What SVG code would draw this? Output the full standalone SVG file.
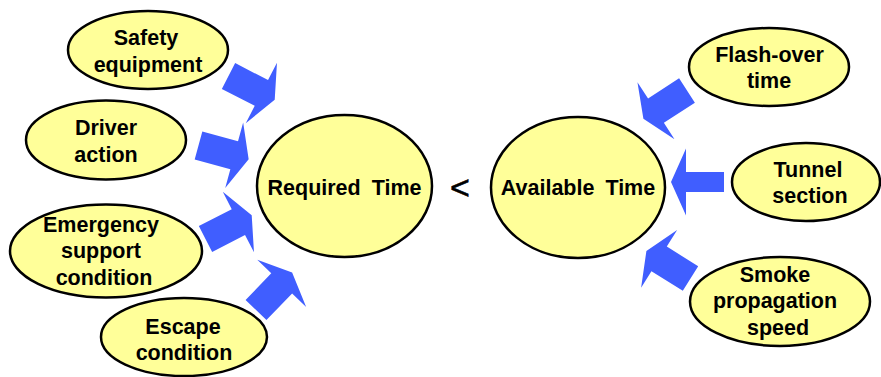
<svg xmlns="http://www.w3.org/2000/svg" xmlns:xlink="http://www.w3.org/1999/xlink" width="881" height="377" viewBox="0 0 881 377">
  <style>
    .node ellipse { fill: #FFFF99; stroke: #000; stroke-width: 2.5; }
    .node text { font-family: "Liberation Sans", Arial, sans-serif; font-weight: bold; font-size: 21.5px; fill: #000; text-anchor: middle; }
    .big text { word-spacing: 5px; }
    .arrow { fill: #405EFF; }
    .op { font-family: "Liberation Sans", Arial, sans-serif; font-size: 34px; fill: #000; stroke: #000; stroke-width: 0.6; text-anchor: middle; }
  </style>
  <defs>
    <path id="blk" d="M0,-14.5 H37 V-34 L52,0 L37,34 V14.5 H0 Z"/>
  </defs>
  <rect width="881" height="377" fill="#fff"/>

  <g id="connectors">
    <use class="arrow" xlink:href="#blk" transform="translate(228.5,76) rotate(27.3)"/>
    <use class="arrow" xlink:href="#blk" transform="translate(198.5,145.5) rotate(15.3)"/>
    <use class="arrow" xlink:href="#blk" transform="translate(205.5,239) rotate(-27.3)"/>
    <use class="arrow" xlink:href="#blk" transform="translate(256,310) rotate(-46)"/>
    <use class="arrow" xlink:href="#blk" transform="translate(687,90.5) rotate(147)"/>
    <path class="arrow" d="M0,-10 H38 V-33.5 L53,0 L38,33.5 V10 H0 Z" transform="translate(724,182) rotate(180)"/>
    <use class="arrow" xlink:href="#blk" transform="translate(690.5,278.5) rotate(212)"/>
  </g>

  <g id="safety-equipment" class="node">
    <ellipse cx="148" cy="50" rx="80" ry="39"/>
    <text x="146" y="45">Safety</text>
    <text x="148" y="72">equipment</text>
  </g>
  <g id="driver-action" class="node">
    <ellipse cx="106" cy="140" rx="80" ry="39.5"/>
    <text x="106" y="135">Driver</text>
    <text x="106" y="162">action</text>
  </g>
  <g id="emergency-support" class="node">
    <ellipse cx="106" cy="251" rx="96" ry="46.5"/>
    <text x="101" y="232">Emergency</text>
    <text x="101" y="258">support</text>
    <text x="104" y="285">condition</text>
  </g>
  <g id="escape-condition" class="node">
    <ellipse cx="184" cy="337" rx="83" ry="39"/>
    <text x="183" y="334">Escape</text>
    <text x="184" y="360">condition</text>
  </g>
  <g id="required-time" class="node big">
    <ellipse cx="344.5" cy="186" rx="87.5" ry="71"/>
    <text x="344.5" y="195">Required Time</text>
  </g>

  <text class="op" x="460" y="199">&lt;</text>

  <g id="available-time" class="node big">
    <ellipse cx="578" cy="187.5" rx="87" ry="70.5"/>
    <text x="578" y="195">Available Time</text>
  </g>
  <g id="flash-over-time" class="node">
    <ellipse cx="769" cy="67" rx="80" ry="39"/>
    <text x="769.5" y="62">Flash-over</text>
    <text x="769" y="88">time</text>
  </g>
  <g id="tunnel-section" class="node">
    <ellipse cx="806" cy="182" rx="74" ry="39"/>
    <text x="808" y="177">Tunnel</text>
    <text x="810" y="203">section</text>
  </g>
  <g id="smoke-propagation" class="node">
    <ellipse cx="780" cy="301.5" rx="90" ry="44.5"/>
    <text x="775" y="282">Smoke</text>
    <text x="775" y="308">propagation</text>
    <text x="778" y="335">speed</text>
  </g>
</svg>
